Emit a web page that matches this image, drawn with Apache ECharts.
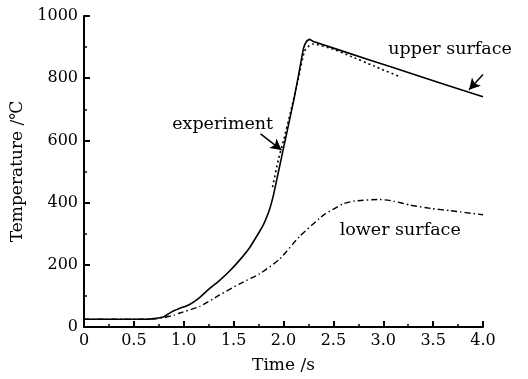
<!DOCTYPE html>
<html>
<head>
<meta charset="utf-8">
<script src="https://cdn.jsdelivr.net/npm/echarts@6/dist/echarts.min.js"></script>
<style>
  html, body { margin: 0; padding: 0; background: #fff; }
  #chart { width: 528px; height: 379px; }
</style>
</head>
<body>
<div id="chart"></div>
<script>
// upper surface (simulation, solid)
const upperTime = [0, 0.6, 0.7, 0.8, 0.85, 0.9, 0.95, 1.05, 1.15, 1.26, 1.36, 1.46, 1.56, 1.66, 1.76, 1.8, 1.83, 1.86, 1.88, 1.9, 1.95, 2.0, 2.05, 2.1, 2.15, 2.2, 2.23, 2.26, 2.3, 2.87, 3.28, 4.0];
const upperTemp = [25, 25, 27, 33, 43, 52, 59, 71, 92, 124, 150, 180, 215, 255, 307, 330, 352, 378, 400, 425, 500, 575, 650, 725, 808, 895, 918, 925, 918, 858, 815, 740];

// experiment (dotted)
const expTime = [1.89, 1.95, 2.0, 2.07, 2.15, 2.21, 2.26, 2.3, 2.5, 2.67, 2.9, 3.18];
const expTemp = [450, 540, 600, 690, 800, 887, 905, 910, 893, 871, 840, 803];

// lower surface (dash-dot)
const lowerTime = [0, 0.6, 0.7, 0.8, 0.9, 0.96, 1.16, 1.36, 1.56, 1.76, 1.96, 2.16, 2.36, 2.41, 2.6, 2.71, 2.96, 3.1, 3.27, 3.48, 3.67, 4.0];
const lowerTemp = [25, 25, 26, 30, 38, 45, 66, 103, 139, 171, 218, 291, 349, 362, 396, 405, 410, 405, 392, 381, 374, 361];

// annotations, in data coordinates
const labelTexts = ['experiment', 'upper surface', 'lower surface'];
const labelPos = [[1.39, 652], [3.67, 894], [3.17, 312]];
const arrowFrom = [[1.77, 621], [4.0, 812]];
const arrowTo = [[1.98, 569], [3.86, 763]];

const font = 'DejaVu Serif';

const chart = echarts.init(document.getElementById('chart'));

function pairs(xs, ys) {
  return xs.map((x, i) => [x, ys[i]]);
}

const option = {
  animation: false,
  grid: { left: 84, top: 16, width: 399, height: 318 },
  xAxis: {
    type: 'value',
    min: 0,
    max: 4,
    interval: 0.5,
    name: 'Time /s',
    nameLocation: 'middle',
    nameGap: 30,
    nameTextStyle: { fontFamily: font, fontSize: 17, color: '#000' },
    axisLine: { show: true, lineStyle: { color: '#000', width: 2 } },
    axisTick: { inside: true, length: 6, lineStyle: { color: '#000', width: 2 } },
    minorTick: { show: true, splitNumber: 2, length: 3, lineStyle: { color: '#000', width: 1.5 } },
    axisLabel: {
      fontFamily: font, fontSize: 16, color: '#000', margin: 6,
      formatter: v => v === 0 ? '0' : v.toFixed(1)
    },
    splitLine: { show: false }
  },
  yAxis: {
    type: 'value',
    min: 0,
    max: 1000,
    interval: 200,
    name: 'Temperature /℃',
    nameLocation: 'middle',
    nameGap: 55,
    nameTextStyle: { fontFamily: font, fontSize: 17, color: '#000' },
    axisLine: { show: true, lineStyle: { color: '#000', width: 2 } },
    axisTick: { inside: true, length: 6, lineStyle: { color: '#000', width: 2 } },
    minorTick: { show: true, splitNumber: 2, length: 3, lineStyle: { color: '#000', width: 1.5 } },
    axisLabel: { fontFamily: font, fontSize: 16, color: '#000', margin: 6, formatter: v => String(v) },
    splitLine: { show: false }
  },
  series: [
    {
      name: 'upper surface',
      type: 'line',
      data: pairs(upperTime, upperTemp),
      showSymbol: false,
      smooth: 0.15,
      lineStyle: { color: '#000', width: 1.6 },
      markPoint: {
        symbol: 'circle',
        symbolSize: 0,
        label: {
          show: true,
          position: 'inside',
          fontFamily: font,
          fontSize: 17.5,
          color: '#000',
          formatter: p => p.name
        },
        data: labelTexts.map((t, i) => ({ name: t, coord: labelPos[i] }))
      },
      markLine: {
        silent: true,
        symbol: ['none', 'arrow'],
        symbolSize: [9, 11],
        label: { show: false },
        lineStyle: { color: '#000', width: 1.5, type: 'solid' },
        data: arrowFrom.map((a, i) => [{ coord: a }, { coord: arrowTo[i] }])
      }
    },
    {
      name: 'experiment',
      type: 'line',
      data: pairs(expTime, expTemp),
      showSymbol: false,
      smooth: 0.15,
      lineStyle: { color: '#000', width: 1.6, type: [2, 3] }
    },
    {
      name: 'lower surface',
      type: 'line',
      data: pairs(lowerTime, lowerTemp),
      showSymbol: false,
      smooth: 0.2,
      lineStyle: { color: '#000', width: 1.4, type: [6, 3, 1.5, 3] }
    }
  ]
};

chart.setOption(option);
</script>
</body>
</html>
